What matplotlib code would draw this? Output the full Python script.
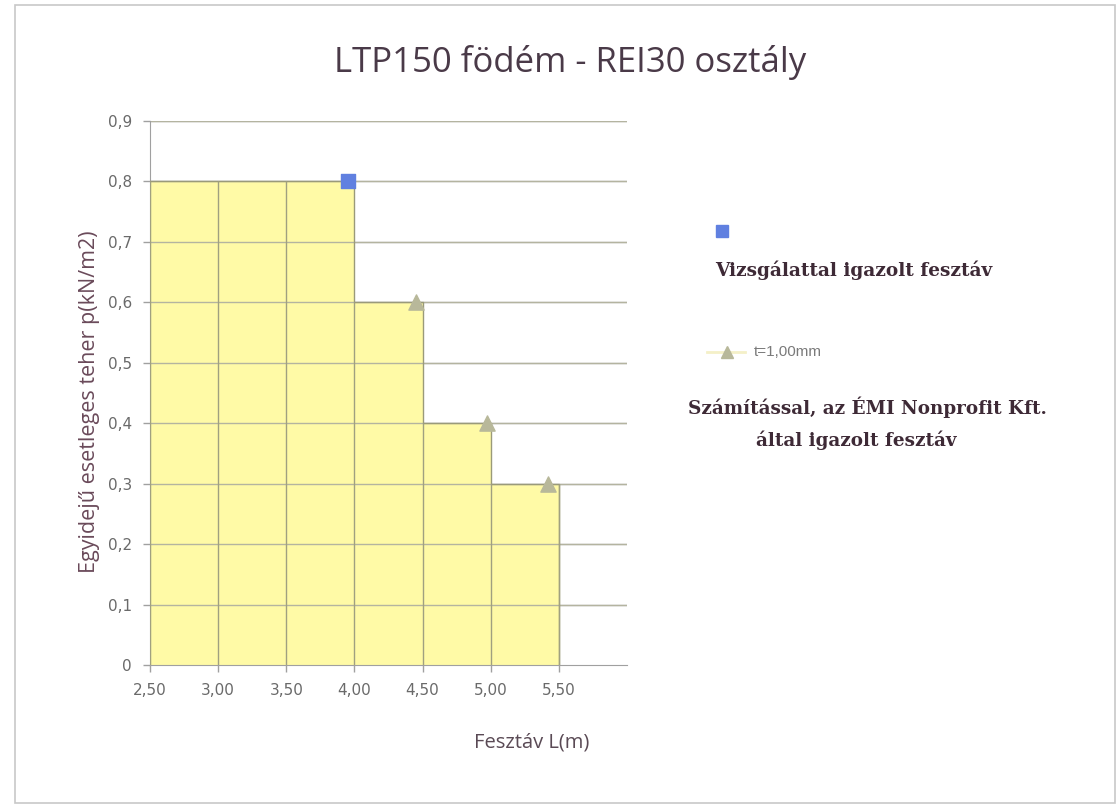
import matplotlib
matplotlib.use('Agg')
import matplotlib.pyplot as plt
from matplotlib.patches import Rectangle
from matplotlib.lines import Line2D
import numpy as np

# data
step_edges = [2.50, 4.00, 4.50, 5.00, 5.50]   # span limits of the yellow area
step_loads = [0.8, 0.6, 0.4, 0.3]              # load on each span
tested_span = [3.95]
tested_load = [0.8]
calc_span = [4.45, 4.97, 5.42]
calc_load = [0.6, 0.4, 0.3]
x_ticks = [2.50, 3.00, 3.50, 4.00, 4.50, 5.00, 5.50]
y_ticks = [0, 0.1, 0.2, 0.3, 0.4, 0.5, 0.6, 0.7, 0.8, 0.9]

W, H = 1119, 805
fig = plt.figure(figsize=(W / 100, H / 100), dpi=100)
fig.patch.set_facecolor('white')

# outer chart border
fig.add_artist(Rectangle((15 / W, 1 - 803 / H), 1100 / W, 798 / H,
                         transform=fig.transFigure, fill=False,
                         edgecolor='#c8c8c8', linewidth=1.2))

ax = fig.add_axes([150 / W, 1 - 665 / H, 477 / W, 544 / H])
ax.set_xlim(2.5, 6.0)
ax.set_ylim(0, 0.9)

# horizontal gridlines
for yv in y_ticks[1:]:
    ax.axhline(yv, color='#b4b4b4', linewidth=1.0, zorder=1)

# yellow stepped area
xs = np.repeat(step_edges, 2)[1:-1]
ys = np.repeat(step_loads, 2)
ax.fill_between(xs, ys, 0, color='#fffaa6', linewidth=0, zorder=2)
ax.plot(np.r_[xs, xs[-1]], np.r_[ys, 0], color='#9a9a7a', linewidth=1.0, zorder=3)

# vertical grid lines only inside the yellow area
for xv in x_ticks:
    idx = min(np.searchsorted(step_edges, xv, side='right') - 1, len(step_loads) - 1)
    ax.vlines(xv, 0, step_loads[idx], color='#a0a080', linewidth=1.0, zorder=3)
# horizontal lines stay visible on top of the fill
for yv in y_ticks[1:]:
    ax.axhline(yv, color='#b4b4a0', linewidth=1.0, zorder=2.5)

ax.scatter(tested_span, tested_load, marker='s', s=110, color='#6080e0', zorder=5)
ax.scatter(calc_span, calc_load, marker='^', s=120, color='#b8b89a', zorder=5)

ax.set_xticks(x_ticks)
ax.set_xticklabels([f"{v:.2f}".replace('.', ',') for v in x_ticks])
ax.set_yticks(y_ticks)
ax.set_yticklabels(['0'] + [f"{v:.1f}".replace('.', ',') for v in y_ticks[1:]])
ax.tick_params(axis='both', colors='#a0a0a0', labelcolor='#6a6a6a',
               labelsize=11, length=5, width=1)
ax.tick_params(axis='x', pad=8)
ax.tick_params(axis='y', pad=8)
for s in ['top', 'right']:
    ax.spines[s].set_visible(False)
for s in ['left', 'bottom']:
    ax.spines[s].set_color('#a0a0a0')
ax.set_axisbelow(False)

ax.set_xlabel('Fesztáv L(m)', fontsize=14.5, color='#5a4a55',
              family='Open Sans')
ax.xaxis.set_label_coords((532 - 150) / 477, -(732 - 665) / 544)
ax.set_ylabel('Egyidejű esetleges teher p(kN/m2)', fontsize=15.5, color='#6a4a5a',
              family='Open Sans')
ax.yaxis.set_label_coords(-(150 - 100) / 477, (665 - 402) / 544)

fig.text(570 / W, 1 - 62 / H, 'LTP150 födém - REI30 osztály', ha='center',
         va='center', fontsize=25, color='#4a3a48', family='Open Sans')

# legend area (drawn as plain text like the original)
fig.add_artist(Line2D([722 / W], [1 - 231 / H], marker='s', markersize=9,
                      color='#6080e0', transform=fig.transFigure))
fig.text(715 / W, 1 - 270 / H, 'Vizsgálattal igazolt fesztáv', ha='left',
         va='center', fontsize=13.3, fontweight='bold', color='#3e2a36',
         family='DejaVu Serif')
fig.add_artist(Line2D([707 / W, 745 / W], [1 - 352 / H, 1 - 352 / H],
                      color='#f4f0c8', linewidth=2, transform=fig.transFigure))
fig.add_artist(Line2D([727 / W], [1 - 352 / H], marker='^', markersize=9,
                      color='#b8b89a', transform=fig.transFigure))
fig.text(754 / W, 1 - 352 / H, 't=1,00mm', ha='left', va='center',
         fontsize=11, color='#7a7a7a', family='Liberation Sans')
fig.text(867 / W, 1 - 407 / H, 'Számítással, az ÉMI Nonprofit Kft.', ha='center',
         va='center', fontsize=13.2, fontweight='bold', color='#3e2a36',
         family='DejaVu Serif')
fig.text(856 / W, 1 - 440 / H, 'által igazolt fesztáv', ha='center',
         va='center', fontsize=13.2, fontweight='bold', color='#3e2a36',
         family='DejaVu Serif')

fig.savefig('out.png', dpi=100, facecolor='white')
